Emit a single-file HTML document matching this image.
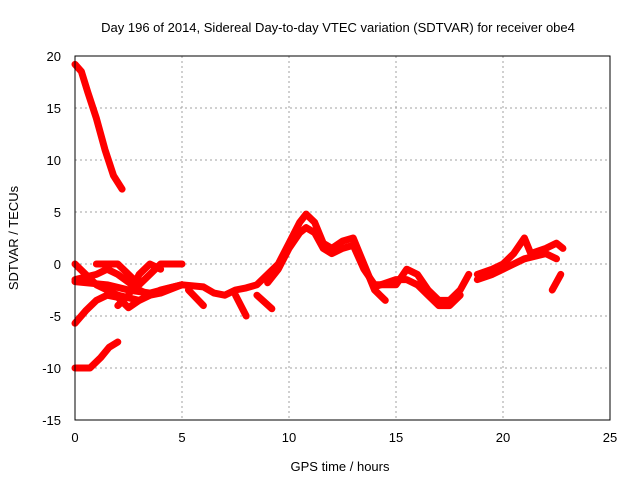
<!DOCTYPE html>
<html><head><meta charset="utf-8"><style>
body{margin:0;background:#fff}
text{font-family:"Liberation Sans",sans-serif;font-size:13px;fill:#000}
</style></head><body>
<svg id="chart" width="640" height="480">
<text x="338" y="32" text-anchor="middle">Day 196 of 2014, Sidereal Day-to-day VTEC variation (SDTVAR) for receiver obe4</text>
<g id="grid"></g>
<g id="ticks"></g>
<g id="series"></g>
<rect x="75" y="56" width="535" height="364" fill="none" stroke="#000"/>
<text x="340" y="471" text-anchor="middle">GPS time / hours</text>
<text transform="translate(18,238) rotate(-90)" text-anchor="middle">SDTVAR / TECUs</text>
</svg>
<script>
const xTicks=[0,5,10,15,20,25];
const yTicks=[20,15,10,5,0,-5,-10,-15];
const seriesA=[[0,19.2],[0.3,18.5],[0.6,16.5],[1.0,14],[1.4,11],[1.8,8.5],[2.2,7.2]];
const seriesB=[[0,-10],[0.7,-10],[1.2,-9],[1.6,-8],[2.0,-7.5]];
const seriesC=[[0,-5.7],[0.5,-4.5],[1,-3.5],[1.5,-3.0],[2,-3.2],[2.5,-4.2],[3,-3.5],[3.5,-3],[4,-2.8],[5,-2]];
const seriesD=[[0,0],[0.5,-1],[1,-2],[1.5,-2.5],[2,-3],[3,-3.5],[4,-2.5],[5,-2]];
const seriesE=[[0,-1.5],[1,-1],[1.5,-0.5],[2,-1],[3,-2.5],[3.5,-3]];
const seriesF=[[1,0],[2,0],[2.5,-1],[3,-2],[3.5,-1],[4,0],[4.5,0],[5,0]];
const seriesG=[[2,-4],[2.5,-3],[3,-1],[3.5,0],[4,-0.5]];
const seriesH=[[0,-1.7],[1.5,-2],[2.5,-2.5],[3.5,-2.8],[5,-2],[6,-2.2],[6.5,-2.8],[7,-3],[7.5,-2.5],[8,-2.3],[8.5,-2],[9,-1],[9.5,0],[10,2],[10.5,4],[10.8,4.8],[11.2,4],[11.6,2],[12,1.5],[12.5,2.2],[13,2.5],[13.5,0],[14,-2.5],[14.5,-3.5]];
const seriesI=[[9,-1.8],[9.5,-0.5],[10,1.5],[10.5,3],[10.8,3.5],[11.2,3],[11.6,1.5],[12,1],[12.5,1.5],[13,1.8],[13.5,-0.5],[14,-2],[14.5,-2],[15,-2],[15.5,-0.5],[16,-1],[16.5,-2.5],[17,-3.5],[17.5,-3.5],[18,-2.5],[18.4,-1]];
const seriesJ=[[14,-2.2],[15,-1.5],[15.5,-1.5],[16,-2],[16.5,-3],[17,-4],[17.5,-4],[18,-3]];
const seriesK=[[18.8,-1],[19.5,-0.5],[20,0],[20.5,1],[21,2.5],[21.3,1],[22,1.5],[22.5,2],[22.8,1.5]];
const seriesL=[[18.8,-1.5],[19.5,-1],[20,-0.5],[20.5,0],[21,0.5],[22,1],[22.5,0.5]];
const seriesM=[[5.3,-2.5],[6,-4]];
const seriesN=[[7.5,-3],[8,-5]];
const seriesO=[[8.5,-3],[9.2,-4.3]];
const seriesP=[[22.3,-2.5],[22.7,-1]];
const allSeries=[seriesA,seriesB,seriesC,seriesD,seriesE,seriesF,seriesG,seriesH,seriesI,seriesJ,seriesK,seriesL,seriesM,seriesN,seriesO,seriesP];
const NS="http://www.w3.org/2000/svg";
const X=t=>75+t*21.4, Y=v=>264-v*10.4;
const grid=document.getElementById('grid'),ticks=document.getElementById('ticks'),ser=document.getElementById('series');
function mk(tag,at,p){const e=document.createElementNS(NS,tag);for(const k in at)e.setAttribute(k,at[k]);p.appendChild(e);return e;}
xTicks.forEach(t=>{
 if(t>0&&t<25){const l=mk('line',{x1:X(t),x2:X(t),y1:56,y2:420,stroke:'#a0a0a0','stroke-dasharray':'2,3'},grid);
 
 }
 const tx=mk('text',{x:X(t),y:442,'text-anchor':'middle'},ticks);tx.textContent=t;
 
 
});
yTicks.forEach(v=>{
 if(v<20&&v>-15){const l=mk('line',{x1:75,x2:610,y1:Y(v),y2:Y(v),stroke:'#a0a0a0','stroke-dasharray':'2,3'},grid);
 
 }
 const tx=mk('text',{x:61,y:Y(v)+5,'text-anchor':'end'},ticks);tx.textContent=v;
 
 
});
allSeries.forEach(s=>{
 const p=mk('polyline',{points:s.map(d=>X(d[0])+','+Y(d[1])).join(' '),fill:'none',stroke:'#ff0000','stroke-width':7,'stroke-linejoin':'round','stroke-linecap':'round'},ser);
 
 
});
</script>
</body></html>
